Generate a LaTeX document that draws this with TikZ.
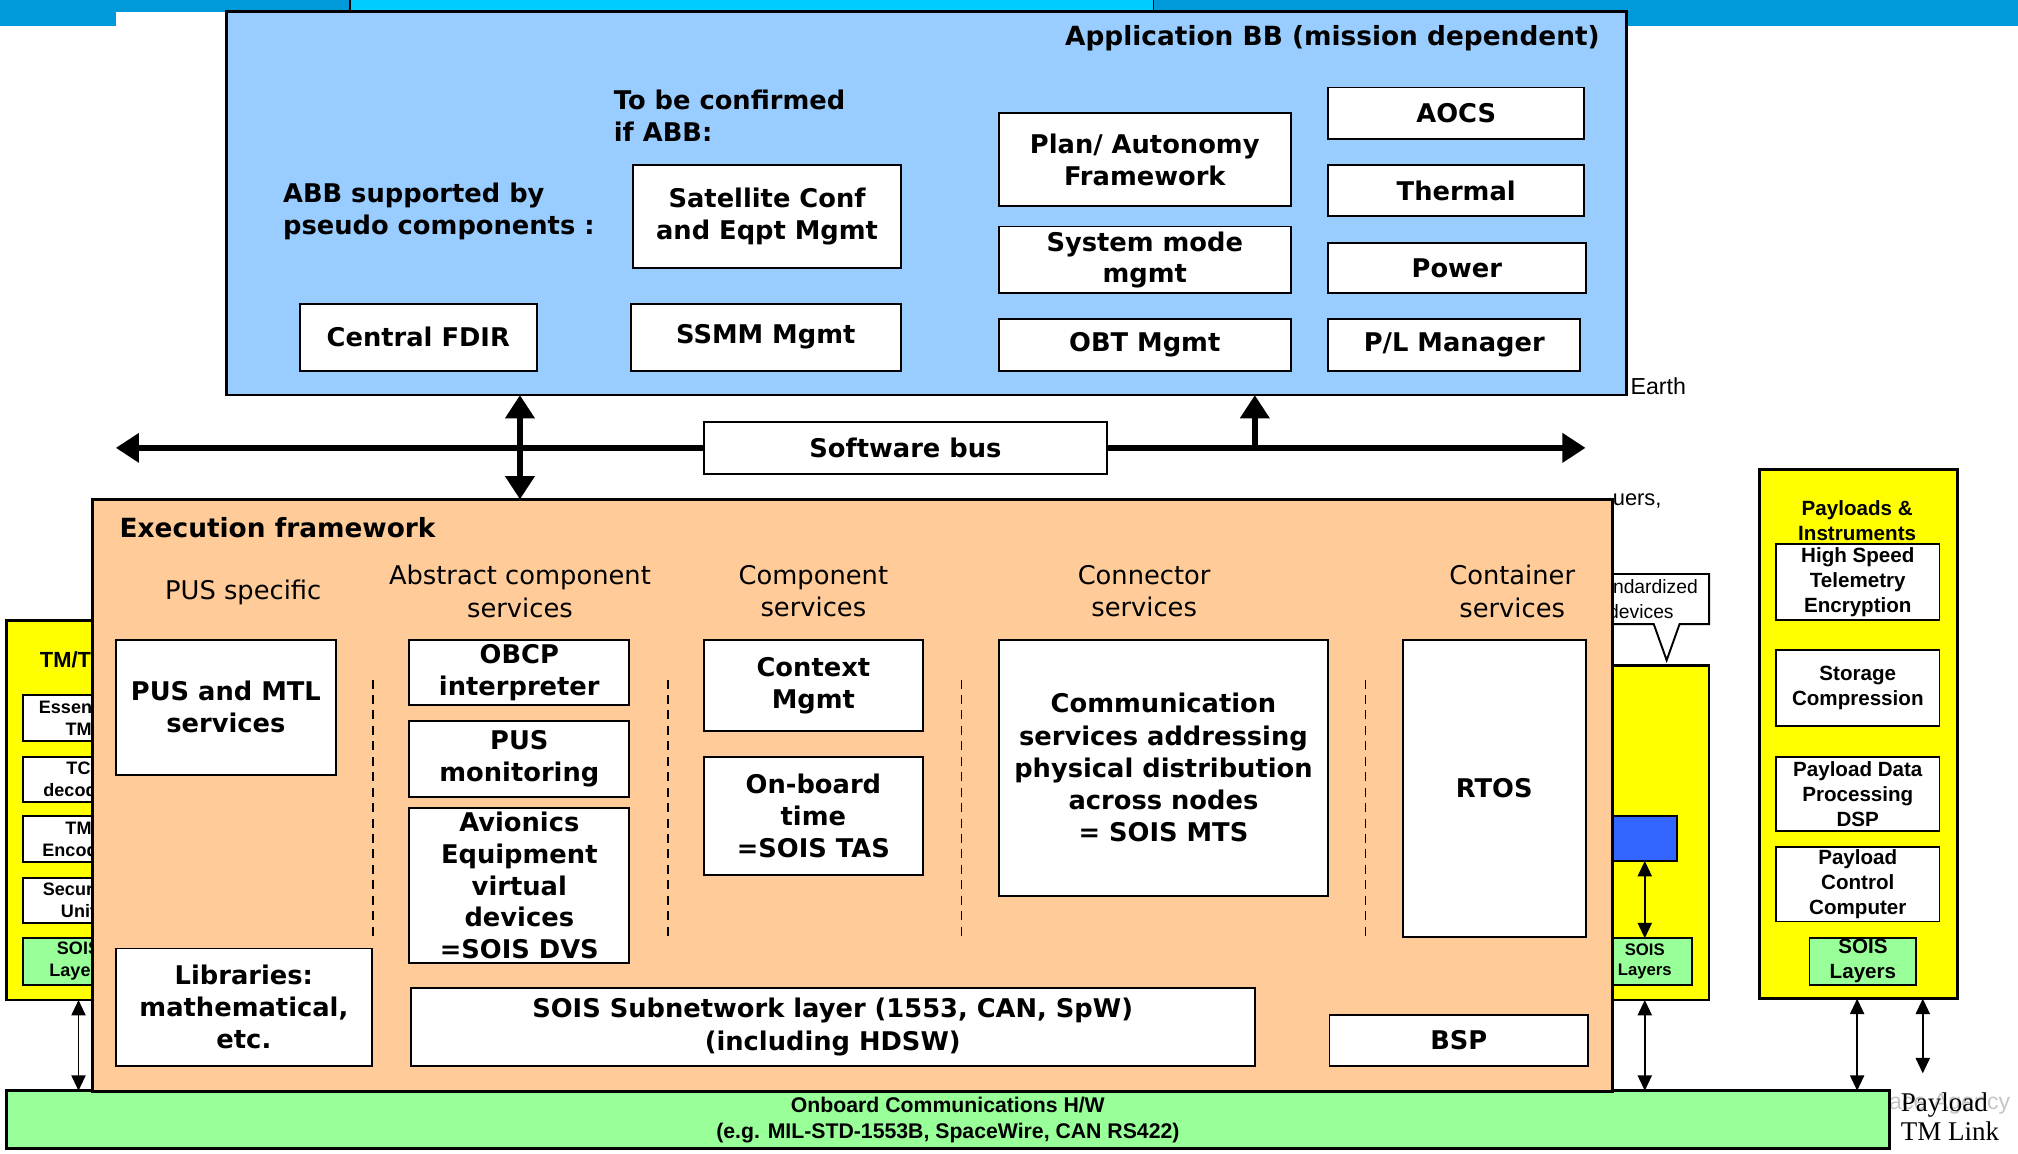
\documentclass[tikz,border=0pt]{standalone}
\usepackage{fontspec}
\setmainfont{DejaVu Sans}
\newfontfamily\arialf{Liberation Sans}
\newfontfamily\serifnr{Liberation Serif}
\usetikzlibrary{arrows.meta,calc}

\definecolor{appblue}{HTML}{99CCFF}
\definecolor{execpeach}{HTML}{FFCC99}
\definecolor{ylw}{HTML}{FFFF00}
\definecolor{grn}{HTML}{99FF99}
\definecolor{deepblue}{HTML}{3366FF}
\definecolor{bannerdark}{HTML}{0099D9}
\definecolor{bannercyan}{HTML}{00CCFF}

\begin{document}
\begin{tikzpicture}[x=1pt,y=-1pt,
  every node/.style={inner sep=0pt, outer sep=0pt},
  bx/.style={draw, fill=white, line width=1.5pt, align=center,
    font=\fontsize{20}{25}\selectfont\bfseries},
  hdr/.style={align=center, font=\fontsize{20}{25}\selectfont},
  pbx/.style={draw, fill=white, line width=1.5pt, align=center,
    font=\arialf\fontsize{16}{19.5}\selectfont\bfseries},
  sbx/.style={draw, fill=white, line width=1.5pt, align=center,
    font=\arialf\fontsize{14}{17}\selectfont\bfseries},
  gbx/.style={draw, fill=grn, line width=1.5pt, align=center},
  yframe/.style={draw, fill=ylw, line width=2pt},
  bus/.style={line width=5pt, {Triangle[length=18pt,width=22pt]}-{Triangle[length=18pt,width=22pt]}},
  busup/.style={line width=5pt, -{Triangle[length=18pt,width=22pt]}},
  thinar/.style={line width=1.4pt, {Triangle[length=12pt,width=11pt]}-{Triangle[length=12pt,width=11pt]}},
  sepline/.style={line width=1.2pt, dash pattern=on 7pt off 5pt}]

\useasboundingbox (0,0) rectangle (1568,896);

% ---- top banner ----
\fill[bannerdark] (0,0) rectangle (1568,9);
\fill[bannerdark] (0,0) rectangle (90,20);
\fill[bannerdark] (1264,0) rectangle (1568,20);
\draw[fill=bannercyan, line width=1pt] (272,-2) rectangle (896,8);

% ---- TM/TC unit (partly behind the execution framework) ----
\node[yframe, minimum width=112pt, minimum height=295pt] (tmtc) at (61,629.5) {};
\node[font=\arialf\fontsize{17}{20}\selectfont\bfseries] (tmtcT) at (57,513) {TM/TC};
\node[sbx, minimum width=86pt, minimum height=36pt] (ess) at (61,558) {Essential\\TM};
\node[sbx, minimum width=86pt, minimum height=35pt] (tcd) at (61,605.5) {TC\\decoder};
\node[sbx, minimum width=86pt, minimum height=36pt] (tme) at (61,652) {TM\\Encoder};
\node[sbx, minimum width=86pt, minimum height=35pt] (sec) at (61,699.5) {Security\\Unit};
\node[gbx, minimum width=86pt, minimum height=36pt,
  font=\arialf\fontsize{14}{17}\selectfont\bfseries] (soisA) at (61,747) {SOIS\\Layers};

% ---- device unit (partly behind the execution framework) ----
\begin{scope}
  \clip (1254,370) rectangle (1340,410);
  \node[anchor=east, font=\arialf\fontsize{17}{20}\selectfont] (queue) at (1291,390) {queuers,};
\end{scope}
\draw[fill=white, line width=1.5pt] (1218,446) -- (1328,446) -- (1328,485) -- (1305,485)
  -- (1295,513) -- (1285,485) -- (1218,485) -- cycle;
\node[align=center, font=\arialf\fontsize{15}{19}\selectfont] (std) at (1275,465.5) {Standardized\\devices};
\node[yframe, minimum width=148pt, minimum height=260pt] (mid) at (1254,647) {};
\node[draw, fill=deepblue, line width=1.5pt, minimum width=103pt, minimum height=35pt] (dev) at (1251.5,651.5) {};
\node[gbx, minimum width=74pt, minimum height=36pt,
  font=\arialf\fontsize{13}{16}\selectfont\bfseries] (soisB) at (1278,747) {SOIS\\Layers};
\draw[thinar] (dev.south -| soisB) -- (soisB.north);

% ---- watermark and onboard communications bar ----
\node[anchor=east, text=gray!45, font=\arialf\fontsize{18}{20}\selectfont] (wm) at (1562,858) {Space Agency};
\node[draw, fill=grn, line width=2pt, minimum width=1463pt, minimum height=45pt, align=center,
  font=\arialf\fontsize{16.5}{20}\selectfont\bfseries] (obc) at (736.5,870)
  {Onboard Communications H/W\\(e.g. MIL-STD-1553B, SpaceWire, CAN RS422)};
\node[anchor=west, align=left, font=\serifnr\fontsize{21}{23}\selectfont] (tmlink) at (1477,867.5) {Payload\\TM Link};

% ---- execution framework ----
\node[draw, fill=execpeach, line width=2pt, minimum width=1181pt, minimum height=460pt] (exec) at (662.5,618) {};
\node[anchor=west, font=\fontsize{20.5}{25}\selectfont\bfseries] (execT) at (93,410) {Execution framework};
\node[hdr] (h1) at (189,460) {PUS specific};
\node[hdr] (h2) at (404,459.5) {Abstract component\\services};
\node[hdr] (h3) at (632,459.5) {Component\\services};
\node[hdr] (h4) at (889,459.5) {Connector\\services};
\node[hdr] (h5) at (1175,459.5) {Container\\services};
\foreach \xs in {290,519,747,1061} \draw[sepline] (\xs,528) -- (\xs,730);

\node[bx, minimum width=171pt, minimum height=105pt] (pus) at (175.5,549.5) {PUS and MTL\\services};
\node[bx, minimum width=171pt, minimum height=51pt] (obcp) at (403.5,522.5) {OBCP\\interpreter};
\node[bx, minimum width=171pt, minimum height=59pt] (pusmon) at (403.5,589.5) {PUS\\monitoring};
\node[bx, minimum width=171pt, minimum height=120pt, font=\fontsize{20}{24.5}\selectfont\bfseries] (avio) at (403.5,688)
  {Avionics\\Equipment\\virtual\\devices\\=SOIS DVS};
\node[bx, minimum width=170pt, minimum height=71pt] (ctx) at (632,532.5) {Context\\Mgmt};
\node[bx, minimum width=170pt, minimum height=92pt] (obtime) at (632,634) {On-board\\time\\=SOIS TAS};
\node[bx, minimum width=256pt, minimum height=199pt] (comm) at (904,596.5)
  {Communication\\services addressing\\physical distribution\\across nodes\\= SOIS MTS};
\node[bx, minimum width=142pt, minimum height=231pt] (rtos) at (1161,612.5) {RTOS};
\node[bx, minimum width=199pt, minimum height=91pt] (libs) at (189.5,782.5) {Libraries:\\mathematical,\\etc.};
\node[bx, minimum width=656pt, minimum height=60pt] (subnet) at (647,798)
  {SOIS Subnetwork layer (1553, CAN, SpW)\\(including HDSW)};
\node[bx, minimum width=201pt, minimum height=39pt] (bsp) at (1133.5,808.5) {BSP};

% ---- application building blocks ----
\node[draw, fill=appblue, line width=2pt, minimum width=1088pt, minimum height=298pt] (app) at (720,158) {};
\node[anchor=east, font=\fontsize{20.5}{25}\selectfont\bfseries] (appT) at (1243,30) {Application BB (mission dependent)};
\node[anchor=west, align=left, font=\fontsize{20}{25}\selectfont\bfseries] (tbc) at (477,90) {To be confirmed\\if ABB:};
\node[anchor=west, align=left, font=\fontsize{20}{25}\selectfont\bfseries] (pseudo) at (220,164) {ABB supported by\\pseudo components :};
\node[bx, minimum width=208pt, minimum height=80pt] (sat) at (596,168) {Satellite Conf\\and Eqpt Mgmt};
\node[bx, minimum width=184pt, minimum height=52pt] (fdir) at (325,262) {Central FDIR};
\node[bx, minimum width=210pt, minimum height=52pt] (ssmm) at (595,262) {SSMM Mgmt};
\node[bx, minimum width=227pt, minimum height=72pt] (plan) at (889.5,124) {Plan/ Autonomy\\Framework};
\node[bx, minimum width=227pt, minimum height=52pt, font=\fontsize{20}{24}\selectfont\bfseries] (sysm) at (889.5,202) {System mode\\mgmt};
\node[bx, minimum width=227pt, minimum height=40pt] (obt) at (889.5,268) {OBT Mgmt};
\node[bx, minimum width=199pt, minimum height=40pt] (aocs) at (1131.5,88) {AOCS};
\node[bx, minimum width=199pt, minimum height=40pt] (therm) at (1131.5,148) {Thermal};
\node[bx, minimum width=200pt, minimum height=39pt] (power) at (1132,208.5) {Power};
\node[bx, minimum width=196pt, minimum height=40pt] (plm) at (1130,268) {P/L Manager};
\node[anchor=west, font=\arialf\fontsize{18}{20}\selectfont] (earth) at (1267,300) {Earth};

% ---- software bus ----
\coordinate (busL) at (90,348);
\coordinate (busR) at (1232,348);
\draw[bus] (busL) -- (busR);
\node[bx, minimum width=313pt, minimum height=40pt] (sbus) at (703.5,348) {Software bus};
\coordinate (v1) at (404,348);
\coordinate (v2) at (975,348);
\draw[bus] (app.south -| v1) -- (exec.north -| v1);
\draw[busup] (v2) -- (app.south -| v2);

% ---- payloads & instruments ----
\node[yframe, minimum width=154pt, minimum height=411pt] (pl) at (1444,570.5) {};
\node[align=center, font=\arialf\fontsize{16}{19}\selectfont\bfseries] (plT) at (1443,404.5) {Payloads \&\\Instruments};
\node[pbx, minimum width=127pt, minimum height=59pt] (hst) at (1443.5,452.5) {High Speed\\Telemetry\\Encryption};
\node[pbx, minimum width=127pt, minimum height=59pt] (stor) at (1443.5,534.5) {Storage\\Compression};
\node[pbx, minimum width=127pt, minimum height=58pt] (pdp) at (1443.5,617) {Payload Data\\Processing\\DSP};
\node[pbx, minimum width=127pt, minimum height=58pt] (pcc) at (1443.5,687) {Payload\\Control\\Computer};
\node[gbx, minimum width=83pt, minimum height=36pt,
  font=\arialf\fontsize{16}{19.5}\selectfont\bfseries] (soisC) at (1447.5,747) {SOIS\\Layers};

% ---- links to the onboard communications bar ----
\coordinate (p1) at (1443,0);
\coordinate (p2) at (1494,0);
\coordinate (p2end) at (1494,834);
\draw[thinar] (tmtc.south) -- (tmtc.south |- obc.north);
\draw[thinar] (mid.south -| soisB) -- (obc.north -| soisB);
\draw[thinar] (pl.south -| p1) -- (obc.north -| p1);
\draw[thinar] (pl.south -| p2) -- (p2end);

\end{tikzpicture}
\end{document}
